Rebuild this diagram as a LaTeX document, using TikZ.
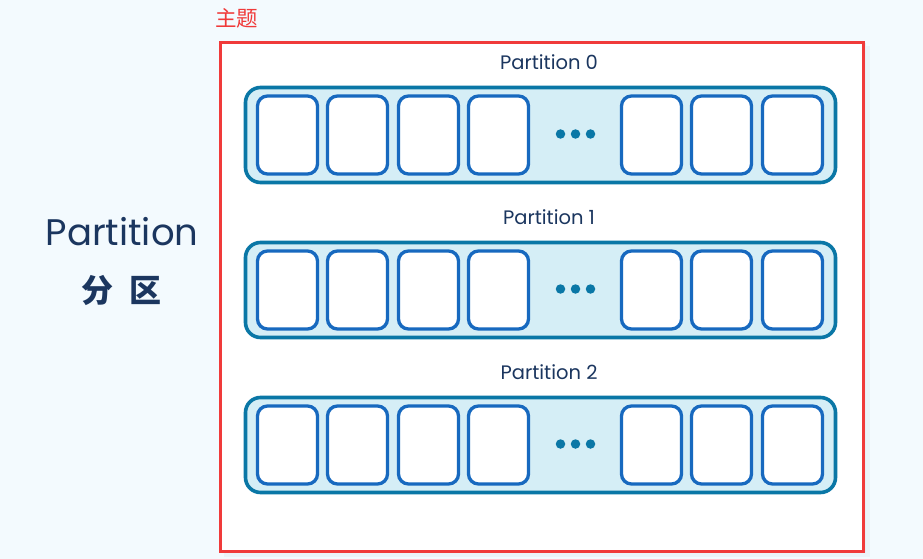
\documentclass[tikz,border=0pt]{standalone}
\usepackage{fontspec}
\setmainfont{Poppins}
\newfontfamily\cjk{Noto Sans CJK SC}
\definecolor{bgc}{HTML}{F3FAFE}
\definecolor{redc}{HTML}{F03A3A}
\definecolor{barline}{HTML}{0A77A6}
\definecolor{barfill}{HTML}{D5EEF6}
\definecolor{cellline}{HTML}{1769BF}
\definecolor{navy}{HTML}{1B365F}
\definecolor{shadowc}{HTML}{E6EFF4}
\tikzset{
  barbox/.style={draw=barline, fill=barfill, line width=3.6pt, rounded corners=15pt, minimum width=590pt, minimum height=95pt, inner sep=0pt},
  cellbox/.style={draw=cellline, fill=white, line width=3.3pt, rounded corners=10pt, minimum width=60pt, minimum height=78pt, inner sep=0pt},
  dotc/.style={circle, fill=barline, minimum size=9.5pt, inner sep=0pt},
  plabel/.style={text=navy, font=\fontsize{19.5}{22}\selectfont, inner sep=0pt},
}
\begin{document}
\begin{tikzpicture}[x=1pt,y=-1pt]
\useasboundingbox[fill=bgc] (0,0) rectangle (923,559);
% soft shadow
\fill[shadowc, opacity=0.6] (224,46) rectangle (870,557);
\fill[shadowc] (221,43) rectangle (866,553);
% topic frame
\node[draw=redc, fill=white, line width=2.6pt, minimum width=643pt, minimum height=509pt, inner sep=0pt, anchor=north west] (topic) at (219.3,41.3) {};
\node[text=redc, font=\cjk\fontsize{21.5}{24}\selectfont, anchor=west, inner sep=0pt] (topiclbl) at (215,18) {主题};
% left label
\node[text=navy, font=\fontsize{37}{40}\selectfont, inner sep=0pt] (lefttitle) at (122,232) {Partition};
\node[text=navy, font=\cjk\bfseries\fontsize{32}{34}\selectfont, inner sep=0pt] (leftcn) at (121,290) {分\hspace{16pt}区};
\foreach \r/\y in {0/135,1/290,2/445}{
  \node[barbox] (bar\r) at (540.5,\y) {};
  \node[plabel] (lbl\r) at (549,\y-73) {Partition \r};
  \foreach \i/\x in {1/287.5,2/357.5,3/428.5,4/498.5,5/651.5,6/721.5,7/792.5}{
    \node[cellbox] (cell\r-\i) at (\x,\y) {};
  }
  \foreach \j/\x in {1/560.5,2/575.5,3/590.5}{
    \node[dotc] (dot\r-\j) at (\x,\y-1) {};
  }
}
\end{tikzpicture}
\end{document}
